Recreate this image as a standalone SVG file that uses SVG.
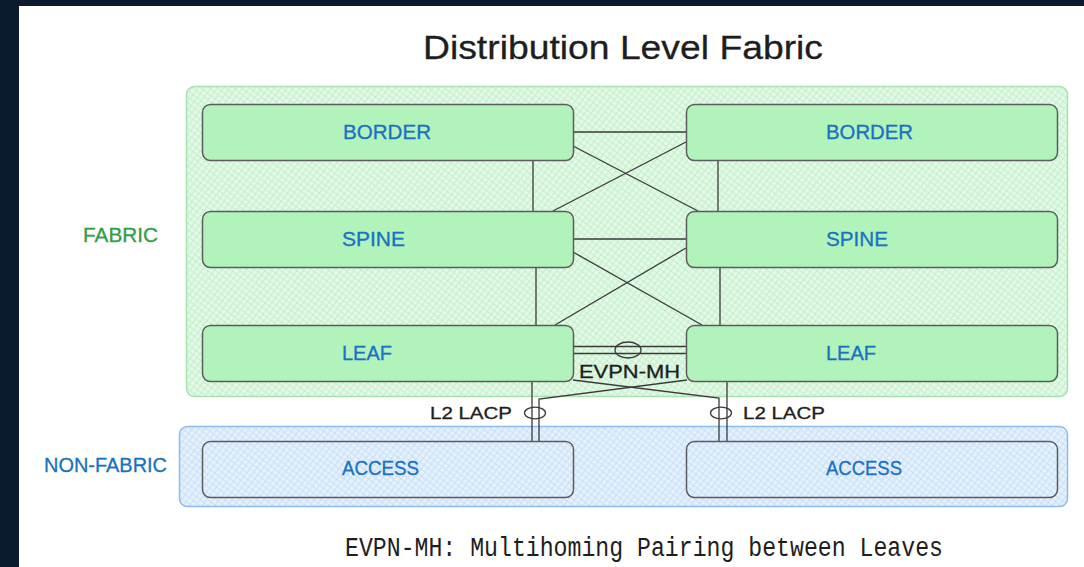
<svg xmlns="http://www.w3.org/2000/svg" width="1084" height="567" viewBox="0 0 1084 567">
  <defs>
    <pattern id="hatchGreen" width="5" height="5" patternUnits="userSpaceOnUse" patternTransform="rotate(38)">
      <rect width="5" height="5" fill="#e3f8e6"/>
      <path d="M0 0V5M0 0H5" stroke="#bdeec5" stroke-width="1.6"/>
    </pattern>
    <pattern id="hatchBlue" width="5" height="5" patternUnits="userSpaceOnUse" patternTransform="rotate(38)">
      <rect width="5" height="5" fill="#e4f0fc"/>
      <path d="M0 0V5M0 0H5" stroke="#c3dcf6" stroke-width="1.6"/>
    </pattern>
  </defs>
  <style>
    .node { fill: #b2f2bb; stroke: #5c5c5c; stroke-width: 1.5; }
    .access { fill: none; stroke: #5c5c5c; stroke-width: 1.5; }
    .lbl { font-family: "Liberation Sans", Arial, sans-serif; font-size: 20px; fill: #1971c2; stroke: #1971c2; stroke-width: 0.3; }
    .link { fill: none; stroke: #3a3a3a; stroke-width: 1.3; }
    .ring { fill: none; stroke: #3a3a3a; stroke-width: 1.3; }
    .note { font-family: "Liberation Sans", Arial, sans-serif; fill: #1e1e1e; stroke: #1e1e1e; stroke-width: 0.3; }
  </style>

  <!-- frame -->
  <rect width="1084" height="567" fill="#0b1a2f"/>
  <rect x="19" y="6" width="1065" height="561" fill="#ffffff"/>

  <text class="note" x="623" y="59" font-size="33" text-anchor="middle" textLength="400" lengthAdjust="spacingAndGlyphs">Distribution Level Fabric</text>

  <!-- zones -->
  <g id="fabric-zone">
    <rect x="186.5" y="86.5" width="881" height="310" rx="8" fill="url(#hatchGreen)" stroke="#a6e2b0" stroke-width="1.5"/>
    <text x="83" y="242" font-family="Liberation Sans, Arial, sans-serif" font-size="20" fill="#2f9e44" stroke="#2f9e44" stroke-width="0.3" textLength="75" lengthAdjust="spacingAndGlyphs">FABRIC</text>
  </g>
  <g id="non-fabric-zone">
    <rect x="179.5" y="426.5" width="888" height="80" rx="8" fill="url(#hatchBlue)" stroke="#8fbbe8" stroke-width="1.5"/>
    <text x="44" y="472" font-family="Liberation Sans, Arial, sans-serif" font-size="20" fill="#1971c2" stroke="#1971c2" stroke-width="0.3" textLength="123" lengthAdjust="spacingAndGlyphs">NON-FABRIC</text>
  </g>

  <!-- links -->
  <g id="connectors">
    <!-- border tier -->
    <line class="link" x1="573" y1="132" x2="686" y2="132"/>
    <line class="link" x1="573" y1="146" x2="698" y2="211"/>
    <line class="link" x1="686" y1="142" x2="553" y2="211"/>
    <line class="link" x1="533" y1="160" x2="533" y2="211"/>
    <line class="link" x1="718" y1="160" x2="718" y2="211"/>
    <!-- spine tier -->
    <line class="link" x1="573" y1="239" x2="686" y2="239"/>
    <line class="link" x1="573" y1="252" x2="702" y2="325"/>
    <line class="link" x1="686" y1="248" x2="555" y2="325"/>
    <line class="link" x1="536" y1="268" x2="536" y2="325"/>
    <line class="link" x1="720" y1="268" x2="720" y2="325"/>
    <!-- leaf pair -->
    <line class="link" x1="573" y1="346.5" x2="686" y2="346.5"/>
    <line class="link" x1="573" y1="353.5" x2="686" y2="353.5"/>
    <ellipse class="ring" cx="628" cy="350" rx="13" ry="8"/>
    <!-- leaf to access -->
    <line class="link" x1="532" y1="381" x2="532" y2="441"/>
    <line class="link" x1="727" y1="381" x2="727" y2="441"/>
    <polyline class="link" points="573,380 719,398 719,441"/>
    <polyline class="link" points="687,380 539,399 539,441"/>
    <ellipse class="ring" cx="535" cy="413" rx="10.5" ry="5.8"/>
    <ellipse class="ring" cx="721" cy="413" rx="10.5" ry="5.8"/>
  </g>

  <g id="border-left">
    <rect class="node" x="202.5" y="104.5" width="371" height="56" rx="8"/>
    <text class="lbl" x="343" y="139" textLength="88" lengthAdjust="spacingAndGlyphs">BORDER</text>
  </g>
  <g id="border-right">
    <rect class="node" x="686.5" y="104.5" width="371" height="56" rx="8"/>
    <text class="lbl" x="826" y="139" textLength="87" lengthAdjust="spacingAndGlyphs">BORDER</text>
  </g>
  <g id="spine-left">
    <rect class="node" x="202.5" y="211.5" width="371" height="56" rx="8"/>
    <text class="lbl" x="342" y="246" textLength="63" lengthAdjust="spacingAndGlyphs">SPINE</text>
  </g>
  <g id="spine-right">
    <rect class="node" x="686.5" y="211.5" width="371" height="56" rx="8"/>
    <text class="lbl" x="826" y="246" textLength="62" lengthAdjust="spacingAndGlyphs">SPINE</text>
  </g>
  <g id="leaf-left">
    <rect class="node" x="202.5" y="325.5" width="371" height="56" rx="8"/>
    <text class="lbl" x="342" y="360" textLength="50" lengthAdjust="spacingAndGlyphs">LEAF</text>
  </g>
  <g id="leaf-right">
    <rect class="node" x="686.5" y="325.5" width="371" height="56" rx="8"/>
    <text class="lbl" x="826" y="360" textLength="50" lengthAdjust="spacingAndGlyphs">LEAF</text>
  </g>
  <g id="access-left">
    <rect class="access" x="202.5" y="441.5" width="371" height="56" rx="8"/>
    <text class="lbl" x="342" y="475" textLength="77" lengthAdjust="spacingAndGlyphs">ACCESS</text>
  </g>
  <g id="access-right">
    <rect class="access" x="686.5" y="441.5" width="371" height="56" rx="8"/>
    <text class="lbl" x="826" y="475" textLength="76" lengthAdjust="spacingAndGlyphs">ACCESS</text>
  </g>

  <!-- link labels -->
  <text class="note" x="579" y="378" font-size="18" textLength="101" lengthAdjust="spacingAndGlyphs">EVPN-MH</text>
  <text class="note" x="430" y="419" font-size="16" textLength="82" lengthAdjust="spacingAndGlyphs">L2 LACP</text>
  <text class="note" x="743" y="419" font-size="16" textLength="82" lengthAdjust="spacingAndGlyphs">L2 LACP</text>

  <text x="345" y="556" font-family="Liberation Mono, Courier New, monospace" font-size="27" fill="#1e1e1e" textLength="598" lengthAdjust="spacingAndGlyphs">EVPN-MH: Multihoming Pairing between Leaves</text>
</svg>
